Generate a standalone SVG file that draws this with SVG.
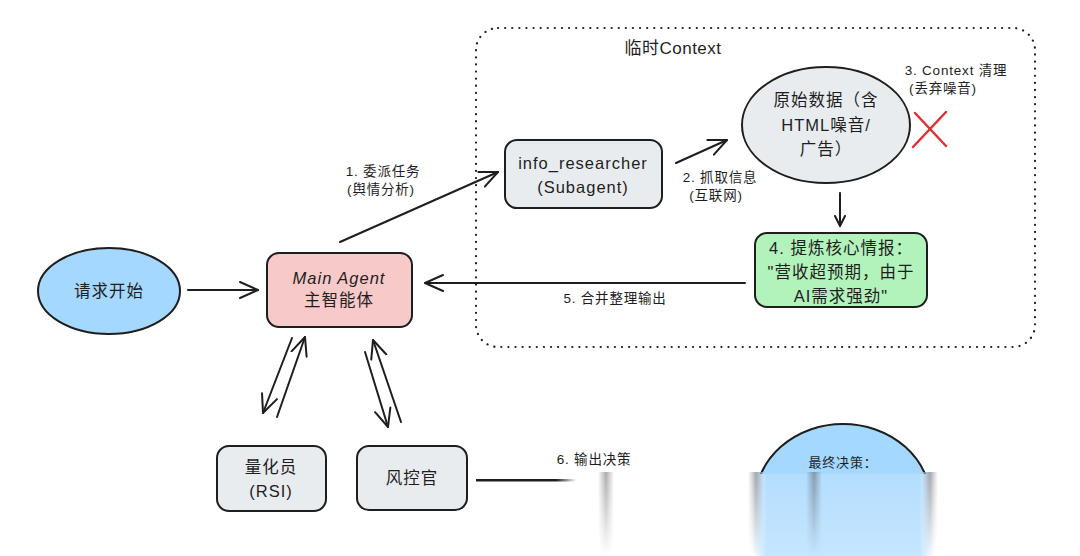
<svg xmlns="http://www.w3.org/2000/svg" width="1080" height="556" viewBox="0 0 1080 556">
<style>
.t{font-family:"Liberation Sans","Noto Sans CJK SC",sans-serif;fill:#1e1e1e;text-anchor:middle}
.n{font-size:16.5px;letter-spacing:1px}
.l{font-size:13.5px;letter-spacing:0.8px}
.sh{stroke:#1e1e1e;stroke-width:2;}
.c{fill:none;stroke:#1e1e1e;stroke-width:2;stroke-linecap:round}
</style>
<defs>
<marker id="ah" viewBox="0 0 12 12" refX="11" refY="6" markerWidth="12" markerHeight="12" markerUnits="userSpaceOnUse" orient="auto">
<path d="M1,1 L11,6 L1,11" fill="none" stroke="#1e1e1e" stroke-width="2" stroke-linecap="round" stroke-linejoin="round"/>
</marker>
<marker id="ahb" viewBox="0 0 20 20" refX="19" refY="10" markerWidth="20" markerHeight="20" markerUnits="userSpaceOnUse" orient="auto">
<path d="M1,2 L19,10 L1,18" fill="none" stroke="#1e1e1e" stroke-width="2" stroke-linecap="round" stroke-linejoin="round"/>
</marker>
<linearGradient id="fadeLine" x1="0" y1="0" x2="1" y2="0">
<stop offset="0.8" stop-color="#1e1e1e" stop-opacity="1"/>
<stop offset="1" stop-color="#1e1e1e" stop-opacity="0"/>
</linearGradient>
<linearGradient id="blueCol" x1="0" y1="0" x2="1" y2="0">
<stop offset="0" stop-color="#a5d8ff" stop-opacity="0"/>
<stop offset="0.08" stop-color="#a5d8ff" stop-opacity="0.85"/>
<stop offset="0.92" stop-color="#a5d8ff" stop-opacity="0.85"/>
<stop offset="1" stop-color="#a5d8ff" stop-opacity="0"/>
</linearGradient>
<linearGradient id="grayStreak" x1="0" y1="0" x2="1" y2="0">
<stop offset="0" stop-color="#555" stop-opacity="0"/>
<stop offset="0.5" stop-color="#555" stop-opacity="0.5"/>
<stop offset="1" stop-color="#555" stop-opacity="0"/>
</linearGradient>
<linearGradient id="vfade" x1="0" y1="0" x2="0" y2="1">
<stop offset="0" stop-color="#fff" stop-opacity="1"/>
<stop offset="1" stop-color="#fff" stop-opacity="0"/>
</linearGradient>
<linearGradient id="vfadeSoft" x1="0" y1="0" x2="0" y2="1">
<stop offset="0" stop-color="#fff" stop-opacity="1"/>
<stop offset="1" stop-color="#fff" stop-opacity="0.75"/>
</linearGradient>
<mask id="streakMask"><rect x="0" y="470" width="1080" height="86" fill="url(#vfade)"/></mask>
<mask id="blueMask"><rect x="0" y="470" width="1080" height="86" fill="url(#vfadeSoft)"/></mask>
<clipPath id="topClip"><rect x="0" y="0" width="1080" height="474"/></clipPath>
</defs>
<rect width="1080" height="556" fill="#ffffff"/>

<g id="context-frame">
<rect x="476" y="28" width="559" height="319" rx="22" fill="none" stroke="#1e1e1e" stroke-width="2.2" stroke-dasharray="0.1 7" stroke-linecap="round"/>
<text class="t" x="673" y="54" font-size="17" letter-spacing="0.5">临时Context</text>
</g>

<g id="connectors">
<line class="c" x1="188" y1="290" x2="258" y2="290" marker-end="url(#ahb)"/>
<line class="c" x1="340" y1="242" x2="498" y2="172" marker-end="url(#ahb)"/>
<line class="c" x1="676" y1="163" x2="727" y2="140" marker-end="url(#ahb)"/>
<line class="c" x1="840" y1="193" x2="840" y2="226" marker-end="url(#ah)"/>
<line class="c" x1="745" y1="283" x2="425" y2="283" marker-end="url(#ahb)"/>
<line class="c" x1="292" y1="338" x2="263" y2="413" marker-end="url(#ahb)"/>
<line class="c" x1="277" y1="417" x2="305" y2="337" marker-end="url(#ahb)"/>
<line class="c" x1="365" y1="352" x2="388" y2="427" marker-end="url(#ahb)"/>
<line class="c" x1="401" y1="422" x2="373" y2="340" marker-end="url(#ahb)"/>
<rect x="476" y="479" width="100" height="2.5" fill="url(#fadeLine)"/>
<path d="M913,147 L946,112 M915,113 L946,146" fill="none" stroke="#e03131" stroke-width="2.5" stroke-linecap="round"/>
<text class="t l" x="383" y="176">1. 委派任务</text>
<text class="t l" x="381" y="194">(舆情分析)</text>
<text class="t l" x="720" y="182">2. 抓取信息</text>
<text class="t l" x="716" y="200">(互联网)</text>
<text class="t l" x="956" y="75">3. Context 清理</text>
<text class="t l" x="943" y="93">(丢弃噪音)</text>
<text class="t l" x="615" y="303">5. 合并整理输出</text>
<text class="t l" x="594" y="464">6. 输出决策</text>
</g>

<g id="start">
<ellipse cx="109" cy="291" rx="71" ry="43" fill="#a5d8ff" class="sh"/>
<text class="t n" x="109" y="297">请求开始</text>
</g>

<g id="main-agent">
<rect x="267" y="253" width="145" height="74" rx="12" fill="#f8c9c9" class="sh"/>
<text class="t n" x="339" y="284" font-style="italic">Main Agent</text>
<text class="t n" x="339" y="306">主智能体</text>
</g>

<g id="info-researcher">
<rect x="505" y="140" width="157" height="68" rx="12" fill="#e9ecef" class="sh"/>
<text class="t n" x="583" y="169">info_researcher</text>
<text class="t n" x="583" y="193">(Subagent)</text>
</g>

<g id="raw-data">
<ellipse cx="826" cy="125" rx="84" ry="58" fill="#e9ecef" class="sh"/>
<text class="t n" x="826" y="106">原始数据（含</text>
<text class="t n" x="826" y="131">HTML噪音/</text>
<text class="t n" x="826" y="155">广告）</text>
</g>

<g id="insight">
<rect x="755" y="233" width="172" height="74" rx="12" fill="#b2f2bb" class="sh"/>
<text class="t n" x="841" y="254">4. 提炼核心情报：</text>
<text class="t n" x="841" y="278">"营收超预期，由于</text>
<text class="t n" x="841" y="302">AI需求强劲"</text>
</g>

<g id="quant">
<rect x="217" y="446" width="109" height="65" rx="12" fill="#e9ecef" class="sh"/>
<text class="t n" x="271" y="473">量化员</text>
<text class="t n" x="271" y="497">(RSI)</text>
</g>

<g id="risk">
<rect x="357" y="446" width="110" height="64" rx="12" fill="#e9ecef" class="sh"/>
<text class="t n" x="412" y="484">风控官</text>
</g>

<g id="final-decision">
<g clip-path="url(#topClip)">
<ellipse cx="843" cy="502" rx="88" ry="78" fill="#a5d8ff" class="sh"/>
</g>
<rect x="752" y="472" width="182" height="84" fill="url(#blueCol)" mask="url(#blueMask)"/>
<g mask="url(#streakMask)">
<rect x="598" y="472" width="16" height="84" fill="url(#grayStreak)"/>
<rect x="748" y="472" width="16" height="84" fill="url(#grayStreak)"/>
<rect x="806" y="472" width="16" height="84" fill="url(#grayStreak)"/>
<rect x="922" y="472" width="16" height="84" fill="url(#grayStreak)"/>
</g>
<text class="t" x="843" y="467" font-size="13" letter-spacing="0.8">最终决策：</text>
</g>
</svg>
